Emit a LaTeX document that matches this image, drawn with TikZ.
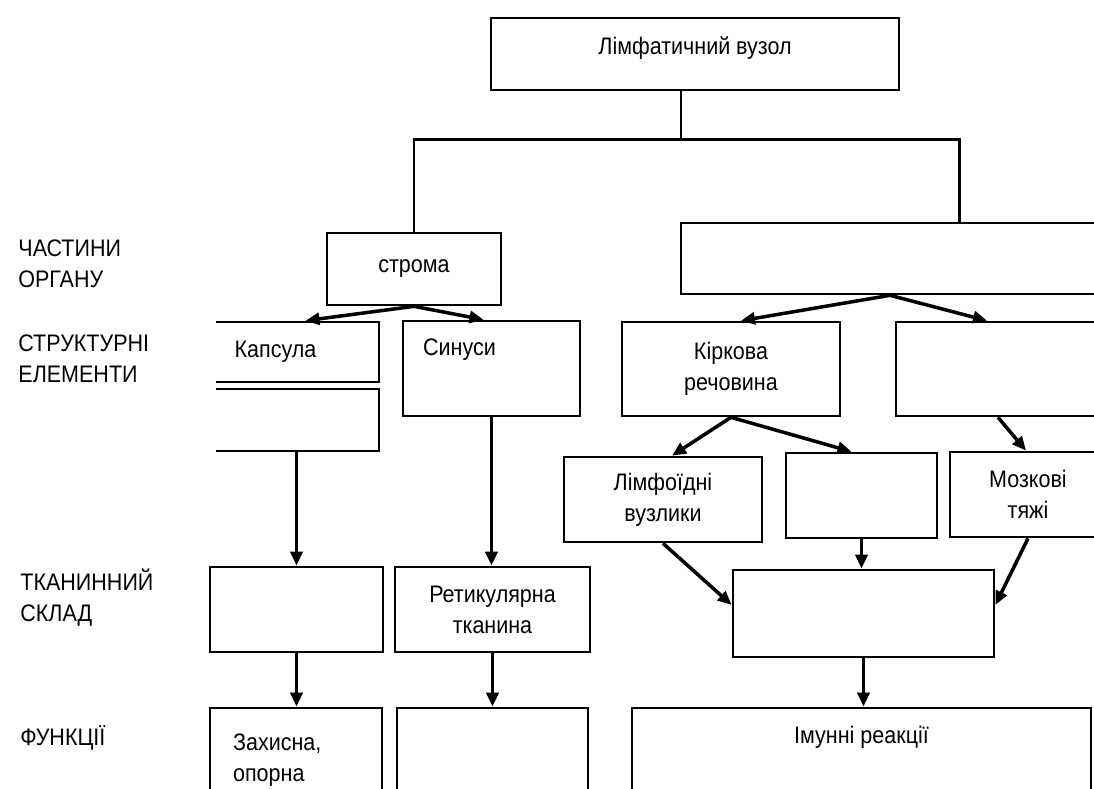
\documentclass[tikz,border=0pt]{standalone}
\usepackage{fontspec}
\setmainfont{Liberation Sans}[FakeStretch=0.9]
\usetikzlibrary{arrows.meta}

\tikzset{
  box/.style={draw, line width=0.75pt, inner sep=2pt, align=center},
  link/.style={->, line width=1pt},
}

\begin{document}
\begin{tikzpicture}[font=\fontsize{6.8}{8.8}\selectfont, >={Triangle[length=1.4mm,width=1.2mm]}]
    \useasboundingbox (0,0) rectangle (10.94,-7.88);

    % row captions on the left
    \node[anchor=west, align=left] (row-parts) at (0.06,-2.635) {ЧАСТИНИ\\ОРГАНУ};
    \node[anchor=west, align=left] (row-struct) at (0.06,-3.59) {СТРУКТУРНІ\\ЕЛЕМЕНТИ};
    \node[anchor=west, align=left] (row-tissue) at (0.08,-5.98) {ТКАНИННИЙ\\СКЛАД};
    \node[anchor=west, align=left] (row-func) at (0.08,-7.38) {ФУНКЦІЇ};

    % organ and its two parts
    \node[box, minimum width=4.08cm, minimum height=0.72cm, label={[yshift=0.06cm]center:Лімфатичний вузол}] (lymph-node) at (6.95,-0.54) {};
    \node[box, minimum width=1.74cm, minimum height=0.72cm] (stroma) at (4.14,-2.69) {строма};
    \node[box, minimum width=5.19cm, minimum height=0.71cm] (parenchyma) at (9.405,-2.585) {};

    % stroma branch
    \begin{scope}
      \clip (2.16,-3.0) rectangle (4.0,-4.7);
      \node[box, minimum width=2.07cm, minimum height=0.60cm] (capsule) at (2.755,-3.52) {Капсула};
      \node[box, minimum width=2.07cm, minimum height=0.62cm] (trabeculae) at (2.755,-4.20) {};
    \end{scope}
    \node[box, minimum width=1.77cm, minimum height=0.95cm, label={[xshift=-0.32cm, yshift=0.19cm]center:Синуси}] (sinuses) at (4.915,-3.685) {};
    \node[box, minimum width=1.73cm, minimum height=0.85cm] (tissue-a) at (2.965,-6.095) {};
    \node[box, minimum width=1.95cm, minimum height=0.85cm] (reticular) at (4.925,-6.095) {Ретикулярна\\тканина};
    \node[box, minimum width=1.72cm, minimum height=1.22cm, label={[anchor=north west, align=left, xshift=0.12cm, yshift=-0.15cm]north west:Захисна,\\опорна}] (func-a) at (2.96,-7.69) {};
    \node[box, minimum width=1.91cm, minimum height=1.22cm] (func-b) at (4.925,-7.69) {};

    % parenchyma branch
    \node[box, minimum width=2.18cm, minimum height=0.94cm] (cortex) at (7.31,-3.69) {Кіркова\\речовина};
    \node[box, minimum width=3.04cm, minimum height=0.94cm] (medulla) at (10.48,-3.69) {};
    \node[box, minimum width=1.98cm, minimum height=0.85cm] (nodules) at (6.63,-4.995) {Лімфоїдні\\вузлики};
    \node[box, minimum width=1.51cm, minimum height=0.85cm] (paracortex) at (8.615,-4.955) {};
    \node[box, minimum width=2.5cm, minimum height=0.85cm, label={[xshift=-0.47cm, align=center]center:Мозкові\\тяжі}] (cords) at (10.75,-4.945) {};
    \node[box, minimum width=2.61cm, minimum height=0.87cm] (lymphoid) at (8.635,-6.135) {};
    \node[box, minimum width=4.59cm, minimum height=1.22cm, label={[yshift=0.32cm]center:Імунні реакції}] (immune) at (8.615,-7.69) {};

    % tree under the organ
    \draw[line width=0.7pt] ([xshift=-0.14cm]lymph-node.south) -- ++(0,-0.48) coordinate (split);
    \draw[line width=0.7pt] (stroma.north) |- (split) -| ([xshift=0.19cm]parenchyma.north);

    \draw[link] (stroma.south) -- ([xshift=0.3cm]capsule.north);
    \draw[link] (stroma.south) -- ([xshift=-0.08cm]sinuses.north);
    \draw[link] ([xshift=-0.505cm]parenchyma.south) -- ([xshift=0.1cm]cortex.north);
    \draw[link] ([xshift=-0.505cm]parenchyma.south) -- ([xshift=-0.61cm]medulla.north);

    \draw[link] (tissue-a.north |- trabeculae.south) -- (tissue-a.north);
    \draw[link] (sinuses.south) -- (sinuses.south |- reticular.north);
    \draw[link] (tissue-a.south) -- (tissue-a.south |- func-a.north);
    \draw[link] (reticular.south) -- (reticular.south |- func-b.north);

    \draw[link] (cortex.south) -- ([xshift=0.09cm]nodules.north);
    \draw[link] (cortex.south) -- ([xshift=-0.1cm]paracortex.north);
    \draw[link] ([xshift=-0.5cm]medulla.south) -- ([xshift=-0.49cm]cords.north);
    \draw[link] (nodules.south) -- ([yshift=0.085cm]lymphoid.west);
    \draw[link] (paracortex.south) -- (paracortex.south |- lymphoid.north);
    \draw[link] ([xshift=-0.47cm]cords.south) -- ([yshift=0.085cm]lymphoid.east);
    \draw[link] (lymphoid.south) -- (lymphoid.south |- immune.north);
\end{tikzpicture}
\end{document}
